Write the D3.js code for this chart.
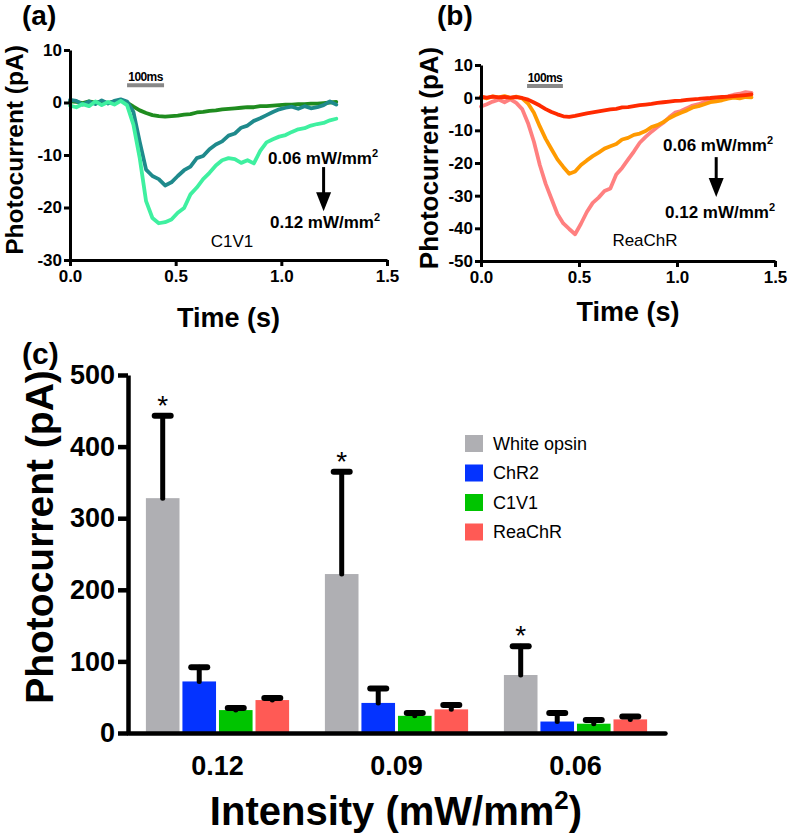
<!DOCTYPE html>
<html><head><meta charset="utf-8">
<script src="https://cdn.jsdelivr.net/npm/d3@7"></script>
<style>body{margin:0;background:#fff}svg{display:block}text{font-family:"Liberation Sans",Arial,Helvetica,sans-serif}</style>
</head><body><svg id="chart" width="787" height="835"></svg>
<script>
// ---------- Panel (a): C1V1 traces ----------
const timeA = [0,0.03,0.06,0.09,0.12,0.15,0.18,0.21,0.24,0.27,0.30,0.33,0.36,0.39,0.42,0.45,0.48,0.51,0.54,0.57,0.60,0.63,0.66,0.69,0.72,0.75,0.78,0.81,0.84,0.87,0.90,0.93,0.96,0.99,1.02,1.05,1.08,1.11,1.14,1.17,1.20,1.23,1.26];
const c1v1_006 = [0.2,0.1,-0.1,0.2,0,0.1,-0.1,0.2,0.3,0,-0.8,-1.5,-2.0,-2.4,-2.6,-2.7,-2.6,-2.5,-2.3,-2.2,-1.9,-1.8,-1.6,-1.5,-1.3,-1.2,-1.1,-1.0,-0.9,-0.9,-0.7,-0.7,-0.6,-0.5,-0.4,-0.4,-0.3,-0.3,-0.2,-0.2,-0.1,0,0.1];
const c1v1_009 = [0.5,0.3,-0.4,0.2,-0.3,0.4,-0.2,0.3,0.6,0.2,-1.8,-7.5,-12.8,-14.0,-14.6,-15.8,-15.2,-14.0,-12.9,-12.2,-10.6,-10.2,-8.9,-8.0,-7.4,-6.3,-5.9,-4.8,-4.4,-3.5,-3.0,-2.4,-1.8,-1.3,-1.0,-0.8,-1.2,-0.7,-1.1,-0.9,-0.5,0.2,-0.4];
const c1v1_012 = [-0.6,-0.9,-0.3,-0.7,0.2,-0.5,0.1,-0.4,0.3,-0.5,-4.2,-10.6,-18.8,-22.0,-23.0,-22.8,-22.3,-21.0,-20.1,-17.5,-16.2,-14.6,-13.4,-12.0,-11.0,-10.6,-10.8,-11.5,-11.0,-11.6,-9.2,-7.6,-7.0,-6.5,-6.2,-5.6,-5.1,-4.9,-4.4,-4.1,-3.9,-3.4,-3.1];

// ---------- Panel (b): ReaChR traces ----------
const timeB = [0,0.03,0.06,0.09,0.12,0.15,0.18,0.21,0.24,0.27,0.30,0.33,0.36,0.39,0.42,0.45,0.48,0.51,0.54,0.57,0.60,0.63,0.66,0.69,0.72,0.75,0.78,0.81,0.84,0.87,0.90,0.93,0.96,0.99,1.02,1.05,1.08,1.11,1.14,1.17,1.20,1.23,1.26,1.29,1.32,1.35,1.38];
const reachr_006 = [0.2,0,0.3,0.1,0.2,0,0.2,-0.1,-0.6,-1.5,-2.4,-3.5,-4.4,-5.1,-5.7,-5.9,-5.6,-5.2,-4.8,-4.5,-4.2,-3.9,-3.6,-3.4,-3.0,-2.9,-2.6,-2.3,-2.1,-1.9,-1.6,-1.4,-1.2,-1.0,-0.9,-0.7,-0.5,-0.4,-0.2,-0.1,0.1,0.2,0.3,0.5,0.6,0.8,1.0];
const reachr_009 = [0.3,-0.2,0.4,0.1,0.5,-0.1,0.3,-0.2,-1.8,-4.6,-8.8,-12.6,-15.8,-18.9,-21.2,-23.3,-22.6,-20.6,-19.2,-17.9,-16.8,-15.6,-14.9,-14.2,-12.8,-12.3,-11.4,-11.0,-10.2,-9.0,-8.4,-7.5,-6.3,-5.4,-4.6,-3.9,-3.0,-2.6,-2.0,-1.4,-1.1,-0.8,-0.3,0,-0.2,0.2,0.1];
const reachr_012 = [-2.7,-2.0,-1.2,-0.6,-1.4,-0.5,-1.6,-3.5,-7.8,-13.5,-20.6,-26.4,-31.0,-35.6,-38.5,-40.2,-41.8,-38.6,-35.0,-32.2,-30.6,-28.6,-27.8,-23.5,-21.5,-19.0,-16.5,-13.8,-12.0,-10.4,-9.0,-7.7,-6.0,-4.6,-4.1,-3.2,-2.4,-2.0,-1.3,-0.8,-0.3,0.1,0.4,0.9,1.2,1.7,1.5];

const yTicksA = [-30,-20,-10,0,10];
const yTicksB = [-50,-40,-30,-20,-10,0,10];
const timeTicks = [0,0.5,1.0,1.5];

// ---------- Panel (c): bar chart ----------
const intensities = ["0.12","0.09","0.06"];
const opsins = ["White opsin","ChR2","C1V1","ReaChR"];
const whiteVals = [328,222,81];   const whiteErr = [115,143,40];
const chr2Vals = [72,42,16];      const chr2Err = [20,20,12];
const c1v1Vals = [32,24,13];      const c1v1Err = [3,4,5];
const reachrVals = [46,33,19];    const reachrErr = [3,6,4];
const significant = [true,true,true]; // White opsin asterisks
const yTicksC = [0,100,200,300,400,500];

const barColors = ["#afafb3","#0433ff","#00c400","#ff5a55"];

const svg = d3.select("#chart");
const FONT = '"Liberation Sans",Arial,sans-serif';

function styleAxis(g, lw, fs){
  g.selectAll("path.domain").attr("stroke","#000").attr("stroke-width",lw);
  g.selectAll(".tick line").attr("stroke","#000").attr("stroke-width",lw);
  g.selectAll(".tick text").attr("font-size",fs).attr("font-weight","bold").attr("fill","#000").attr("font-family",FONT);
}

function tracePanel(o){
  const x = d3.scaleLinear().domain([0,1.5]).range(o.xr);
  const y = d3.scaleLinear().domain(o.yd).range(o.yr);
  const g = svg.append("g");
  const line = d3.line().x(d=>x(d[0])).y(d=>y(d[1])).curve(d3.curveLinear);
  o.series.forEach((s,i)=>{
    g.append("path").datum(o.time.map((t,k)=>[t,s[k]]))
      .attr("d",line).attr("fill","none").attr("stroke",o.colors[i])
      .attr("stroke-width",3.8).attr("stroke-linejoin","round").attr("stroke-linecap","round");
  });
  const ya = g.append("g").attr("transform",`translate(${o.xr[0]},0)`)
    .call(d3.axisLeft(y).tickValues(o.yt).tickSize(6).tickSizeOuter(0).tickPadding(2).tickFormat(d=>String(d)));
  styleAxis(ya,3,17);
  const xa = g.append("g").attr("transform",`translate(0,${o.yr[0]})`)
    .call(d3.axisBottom(x).tickValues(timeTicks).tickSize(6).tickSizeOuter(0).tickPadding(4).tickFormat(d=>d.toFixed(1)));
  styleAxis(xa,3,17);
  // scale bar
  g.append("line").attr("x1",x(o.bar[0])).attr("x2",x(o.bar[1])).attr("y1",y(o.bar[2])).attr("y2",y(o.bar[2]))
    .attr("stroke","#888").attr("stroke-width",4);
  g.append("text").attr("x",(x(o.bar[0])+x(o.bar[1]))/2).attr("y",y(o.bar[2])-4).attr("text-anchor","middle")
    .attr("font-size",12).attr("font-weight","bold").attr("letter-spacing",-0.6).text("100ms");
  // arrow annotation
  const ax = x(1.2);
  g.append("line").attr("x1",ax).attr("x2",ax).attr("y1",y(o.arrow[0])).attr("y2",y(o.arrow[1])-14)
    .attr("stroke","#000").attr("stroke-width",3);
  g.append("path").attr("d",`M${ax-7.5},${y(o.arrow[1])-19}L${ax+7.5},${y(o.arrow[1])-19}L${ax},${y(o.arrow[1])}Z`).attr("fill","#000");
  const t1 = g.append("text").attr("x",o.lab1[0]).attr("y",o.lab1[1]).attr("font-size",17).attr("font-weight","bold");
  t1.append("tspan").text("0.06 mW/mm");
  t1.append("tspan").attr("font-size",11).attr("dy",-7).text("2");
  const t2 = g.append("text").attr("x",o.lab2[0]).attr("y",o.lab2[1]).attr("font-size",17).attr("font-weight","bold");
  t2.append("tspan").text("0.12 mW/mm");
  t2.append("tspan").attr("font-size",11).attr("dy",-7).text("2");
  g.append("text").attr("x",o.name[0]).attr("y",o.name[1]).attr("text-anchor","middle").attr("font-size",17).text(o.name[2]);
  // axis titles
  g.append("text").attr("transform",`translate(${o.ytl[0]},${o.ytl[1]}) rotate(-90)`).attr("text-anchor","middle")
    .attr("font-size",o.ytl[2]).attr("font-weight","bold").text("Photocurrent (pA)");
  g.append("text").attr("x",(o.xr[0]+o.xr[1])/2).attr("y",o.xtl).attr("text-anchor","middle")
    .attr("font-size",27).attr("font-weight","bold").text("Time (s)");
  g.append("text").attr("x",o.pl[0]).attr("y",o.pl[1]).attr("font-size",28).attr("font-weight","bold").text(o.pl[2]);
}

tracePanel({xr:[70,387], yd:[-30,10], yr:[260,50], yt:yTicksA, time:timeA,
  series:[c1v1_006,c1v1_009,c1v1_012], colors:["#1f8c1f","#1f8a8c","#3ff0a0"],
  bar:[0.27,0.445,3.3], arrow:[-12.3,-20.7], lab1:[268,164], lab2:[270,228], name:[232,247,"C1V1"],
  ytl:[23,150,24.5], xtl:327, pl:[22,25,"(a)"]});

tracePanel({xr:[481,775], yd:[-50,10], yr:[261,65], yt:yTicksB, time:timeB,
  series:[reachr_012,reachr_009,reachr_006], colors:["#ff8080","#ff9a00","#ff2a00"],
  bar:[0.235,0.418,3.6], arrow:[-18.2,-30.4], lab1:[663,151], lab2:[665,218], name:[645,246,"ReaChR"],
  ytl:[438,158,26], xtl:321, pl:[437,25,"(b)"]});

// ---------- Panel (c) ----------
const gc = svg.append("g");
const x0 = d3.scaleBand().domain(intensities).range([128,665]).paddingInner(0.2).paddingOuter(0.1);
const x1 = d3.scaleBand().domain(opsins).range([0,x0.bandwidth()]).paddingInner(0.08);
const yc = d3.scaleLinear().domain([0,500]).range([733,375]);
const color = d3.scaleOrdinal().domain(opsins).range(barColors);
const vals = [whiteVals,chr2Vals,c1v1Vals,reachrVals];
const errs = [whiteErr,chr2Err,c1v1Err,reachrErr];
const rows = [];
intensities.forEach((c,ci)=>opsins.forEach((o,oi)=>rows.push({c,o,v:vals[oi][ci],e:errs[oi][ci],sig:oi===0&&significant[ci]})));

gc.selectAll("rect.bar").data(rows).join("rect").attr("class","bar")
  .attr("x",d=>x0(d.c)+x1(d.o)).attr("width",x1.bandwidth())
  .attr("y",d=>yc(d.v)).attr("height",d=>yc(0)-yc(d.v)).attr("fill",d=>color(d.o));

const eb = gc.selectAll("g.err").data(rows).join("g").attr("class","err");
eb.append("line").attr("x1",d=>x0(d.c)+x1(d.o)+x1.bandwidth()/2).attr("x2",d=>x0(d.c)+x1(d.o)+x1.bandwidth()/2)
  .attr("y1",d=>yc(d.v)).attr("y2",d=>yc(d.v+d.e)).attr("stroke","#000").attr("stroke-width",5).attr("stroke-linecap","round");
eb.append("line").attr("x1",d=>x0(d.c)+x1(d.o)+x1.bandwidth()/2-8).attr("x2",d=>x0(d.c)+x1(d.o)+x1.bandwidth()/2+8)
  .attr("y1",d=>yc(d.v+d.e)).attr("y2",d=>yc(d.v+d.e)).attr("stroke","#000").attr("stroke-width",6).attr("stroke-linecap","round");
gc.selectAll("text.sig").data(rows.filter(d=>d.sig)).join("text").attr("class","sig")
  .attr("x",d=>x0(d.c)+x1(d.o)+x1.bandwidth()/2).attr("y",d=>yc(d.v+d.e)-1).attr("text-anchor","middle")
  .attr("font-size",28).text("*");

const yca = gc.append("g").attr("transform","translate(128,0)")
  .call(d3.axisLeft(yc).tickValues(yTicksC).tickSize(10).tickSizeOuter(0).tickPadding(3).tickFormat(d=>String(d)));
styleAxis(yca,4.5,27);
const xca = gc.append("g").attr("transform","translate(0,733)")
  .call(d3.axisBottom(x0).tickSize(0).tickSizeOuter(0).tickPadding(23));
styleAxis(xca,4.5,27);
xca.select("path.domain").attr("stroke-linecap","round");

gc.append("text").attr("transform","translate(53,537) rotate(-90)").attr("text-anchor","middle")
  .attr("font-size",39).attr("font-weight","bold").text("Photocurrent (pA)");
const xt = gc.append("text").attr("x",396).attr("y",825).attr("text-anchor","middle").attr("font-size",40).attr("font-weight","bold");
xt.append("tspan").text("Intensity (mW/mm");
xt.append("tspan").attr("font-size",26).attr("dy",-16).text("2");
xt.append("tspan").attr("dy",16).text(")");
gc.append("text").attr("x",22).attr("y",364).attr("font-size",30).attr("font-weight","bold").text("(c)");

// legend
const lg = gc.append("g").attr("transform","translate(465,435)");
const li = lg.selectAll("g").data(opsins).join("g").attr("transform",(d,i)=>`translate(0,${i*29.5})`);
li.append("rect").attr("width",18).attr("height",17).attr("fill",d=>color(d));
li.append("text").attr("x",28).attr("y",8.5).attr("dy","0.36em").attr("font-size",18).text(d=>d);
</script></body></html>
